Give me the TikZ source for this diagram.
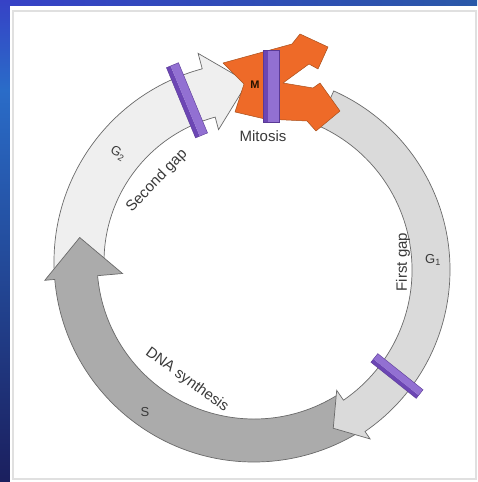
\documentclass[tikz,border=0pt]{standalone}
\usepackage{fontspec}
\setmainfont{Liberation Sans}
\definecolor{gtwo}{HTML}{EFEFEF}
\definecolor{gone}{HTML}{DADADA}
\definecolor{sfill}{HTML}{ABABAB}
\definecolor{ringline}{HTML}{6A6A6A}
\definecolor{mfill}{HTML}{EE6A28}
\definecolor{mline}{HTML}{A8501C}
\definecolor{barface}{HTML}{9270D2}
\definecolor{barside}{HTML}{6C46B4}
\definecolor{barline}{HTML}{5A3A96}
\definecolor{txt}{HTML}{3A3A3A}
\definecolor{bgA}{HTML}{3642C6}
\definecolor{bgB}{HTML}{2A6CC8}
\definecolor{bgC}{HTML}{1B1F5E}
\definecolor{bgD}{HTML}{2A58A8}
\definecolor{panelline}{HTML}{E0E0E0}
\begin{document}
\begin{tikzpicture}[x=1pt,y=1pt,
  band/.style={draw=ringline, line width=0.7pt, line join=miter},
  mshape/.style={draw=mline, line width=0.5pt, fill=mfill, line join=round},
  lbl/.style={text=txt, inner sep=0pt, font=\fontsize{15}{15}\selectfont},
  sublbl/.style={text=txt, inner sep=0pt, font=\fontsize{13}{13}\selectfont},
  facestyle/.style={fill=barface},
  sidestyle/.style={fill=barside},
  edgestyle/.style={draw=barline, line width=0.4pt}
]
\useasboundingbox (0,0) rectangle (477,482);
% background
\shade[top color=bgA, bottom color=bgB] (0,392) rectangle (10,482);
\shade[top color=bgB, bottom color=bgC] (0,0) rectangle (10,392.5);
\shade[left color=bgA, right color=bgD] (10,476) rectangle (477,482);
\fill[white] (10,0) rectangle (477,476);
\draw[panelline, line width=1.5pt] (13,3) rectangle (476,471);

% G2 band
\begin{scope}[shift={(254,220)}]
\filldraw[band, fill=gtwo] (184:150) arc[start angle=184, end angle=105, radius=150]
  -- (105:137) -- (92:180) -- (105:216) -- (105:200)
  arc[start angle=105, end angle=184, radius=200] -- cycle;
% S band
\filldraw[band, fill=sfill] (-57.8:157) arc[start angle=-57.8, end angle=-175, radius=157]
  -- (-175:132) -- (-188:176) -- (-175:210) -- (-175:200)
  arc[start angle=-175, end angle=-57.8, radius=200] -- cycle;
\end{scope}
% G1 band
\begin{scope}[shift={(254,212)}]
\filldraw[band, fill=gone] (66:158) arc[start angle=66, end angle=-55.5, radius=158]
  -- (-55.5:146) -- (-63.4:177) -- (-55.5:205) -- (-55.5:196)
  arc[start angle=-55.5, end angle=66, radius=196] -- cycle;
\end{scope}
% M arrows
\filldraw[mshape] (223,419) -- (292,438) -- (300,448) -- (328,435) -- (318,413)
  -- (309,418) -- (283,399) -- (313,394) -- (320,399) -- (340,371) -- (316,351)
  -- (307,361) -- (265,363) -- (235,370) -- (244,398) -- cycle;

% checkpoint bars
\begin{scope}[shift={(187,381.7)}, rotate=22.5]
\fill[sidestyle] (-6.5,-38) rectangle (-2,38);
\fill[facestyle] (-2,-38) rectangle (6.5,38);
\draw[edgestyle] (-6.5,-38) rectangle (6.5,38);
\end{scope}
\begin{scope}[shift={(271,396)}]
\fill[sidestyle] (-8,-36) rectangle (-3,36);
\fill[facestyle] (-3,-36) rectangle (8,36);
\draw[edgestyle] (-8,-36) rectangle (8,36);
\end{scope}
\begin{scope}[shift={(397,106)}, rotate=51.4]
\fill[sidestyle] (-5.5,-29) rectangle (-1.5,29);
\fill[facestyle] (-1.5,-29) rectangle (5.5,29);
\draw[edgestyle] (-5.5,-29) rectangle (5.5,29);
\end{scope}

% labels
\node[text=black!85!orange, inner sep=0pt, font=\fontsize{11}{11}\selectfont\bfseries] (mlab) at (255,397) {M};
\node[lbl] (mitosis) at (263,346) {Mitosis};
\node[lbl, rotate=46] (secgap) at (157,301) {Second gap};
\node[sublbl, rotate=-30] (gtwolab) at (118,329) {G\textsubscript{2}};
\node[lbl, rotate=90] (firstgap) at (403,220) {First gap};
\node[sublbl] (gonelab) at (433,222) {G\textsubscript{1}};
\node[lbl, rotate=-36] (dnasyn) at (187,102) {DNA synthesis};
\node[sublbl] (slab) at (145,70) {S};
\end{tikzpicture}
\end{document}
